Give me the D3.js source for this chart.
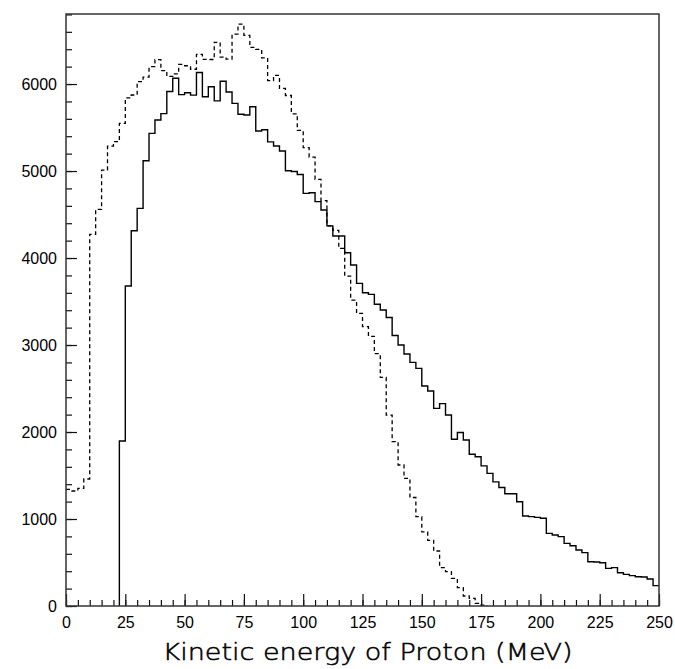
<!DOCTYPE html>
<html>
<head>
<meta charset="utf-8">
<script src="https://cdn.jsdelivr.net/npm/d3@7"></script>
<style>
  body { margin: 0; background: #fff; }
  svg { display: block; }
</style>
</head>
<body>
<div id="chart"></div>
<script>
// histogram: 100 bins of 2.5 MeV from 0 to 250
const binWidth = 2.5;
const xTicks = [0, 25, 50, 75, 100, 125, 150, 175, 200, 225, 250];
const yTicks = [0, 1000, 2000, 3000, 4000, 5000, 6000];

// solid line
const solidCounts = [
  0, 0, 0, 0, 0, 0, 0, 0, 0, 1897,
  3678, 4314, 4571, 5118, 5433, 5586, 5660, 5915, 6066, 5878,
  5900, 5872, 6132, 5854, 5968, 5806, 6032, 5908, 5778, 5652,
  5644, 5739, 5460, 5475, 5335, 5287, 5230, 5004, 4995, 4960,
  4743, 4751, 4648, 4552, 4370, 4253, 4253, 4061, 3920, 3709,
  3601, 3582, 3469, 3402, 3316, 3110, 3000, 2897, 2801, 2732,
  2529, 2471, 2272, 2326, 2195, 1916, 1994, 1908, 1745, 1716,
  1611, 1525, 1427, 1362, 1290, 1290, 1199, 1034, 1027, 1019,
  1008, 835, 816, 797, 720, 693, 644, 613, 509, 506,
  498, 433, 441, 383, 364, 349, 337, 333, 310, 234
];

// dashed line
const dashedCounts = [
  1341, 1322, 1352, 1460, 4272, 4559, 5011, 5287, 5337, 5548,
  5840, 5874, 6027, 6080, 6199, 6280, 6155, 6088, 6117, 6226,
  6210, 6170, 6341, 6284, 6282, 6479, 6310, 6286, 6573, 6688,
  6560, 6422, 6399, 6300, 6040, 6099, 5950, 5868, 5658, 5467,
  5268, 5160, 4905, 4659, 4370, 4318, 4111, 3793, 3517, 3364,
  3211, 3100, 2900, 2628, 2195, 1889, 1621, 1467, 1247, 1027,
  851, 755, 632, 441, 395, 318, 211, 115, 88, 31,
  11, 0, 0, 0, 0, 0, 0, 0, 0, 0,
  0, 0, 0, 0, 0, 0, 0, 0, 0, 0,
  0, 0, 0, 0, 0, 0, 0, 0, 0, 0
];

const width = 675, height = 669;
const margin = { top: 14, right: 16, bottom: 63, left: 66 };

const svg = d3.select("#chart")
    .append("svg")
    .attr("width", width)
    .attr("height", height);

const x = d3.scaleLinear().domain([0, 250]).range([margin.left, width - margin.right]);
const y = d3.scaleLinear().domain([0, 6805]).range([height - margin.bottom, margin.top]);

// turn bin contents into step points, trimming empty bins at both ends
function stepPoints(counts) {
    let first = counts.findIndex(v => v > 0);
    let last = counts.length - 1;
    while (last > 0 && counts[last] === 0) last--;
    const pts = [];
    if (first > 0) pts.push([first * binWidth, 0]);
    for (let i = first; i <= last; i++) pts.push([i * binWidth, counts[i]]);
    pts.push([(last + 1) * binWidth, counts[last]]);
    if (last < counts.length - 1) pts.push([(last + 1) * binWidth, 0]);
    return pts;
}

const line = d3.line()
    .x(d => x(d[0]))
    .y(d => y(d[1]))
    .curve(d3.curveStepAfter);

svg.append("path")
    .datum(stepPoints(dashedCounts))
    .attr("fill", "none")
    .attr("stroke", "#000")
    .attr("stroke-width", 1.3)
    .attr("stroke-dasharray", "4,3")
    .attr("d", line);

svg.append("path")
    .datum(stepPoints(solidCounts))
    .attr("fill", "none")
    .attr("stroke", "#000")
    .attr("stroke-width", 1.4)
    .attr("d", line);

// axes, ticks pointing inward
const font = "'Liberation Sans', Arial, sans-serif";
const bottomY = height - margin.bottom;

svg.append("g")
    .attr("transform", `translate(0,${bottomY})`)
    .call(d3.axisBottom(x).tickValues(d3.range(0, 251, 5)).tickSize(-6).tickFormat(""))
    .call(g => g.select(".domain").remove());

svg.append("g")
    .attr("transform", `translate(0,${bottomY})`)
    .call(d3.axisBottom(x).tickValues(xTicks).tickSize(-12).tickPadding(11).tickFormat(d3.format("d")))
    .call(g => g.select(".domain").remove())
    .call(g => g.selectAll("text").attr("font-family", font).attr("font-size", 16).attr("fill", "#000"));

svg.append("g")
    .attr("transform", `translate(${margin.left},0)`)
    .call(d3.axisLeft(y).tickValues(d3.range(0, 6801, 200)).tickSize(-6).tickFormat(""))
    .call(g => g.select(".domain").remove());

svg.append("g")
    .attr("transform", `translate(${margin.left},0)`)
    .call(d3.axisLeft(y).tickValues(yTicks).tickSize(-11).tickPadding(9).tickFormat(d3.format("d")))
    .call(g => g.select(".domain").remove())
    .call(g => g.selectAll("text").attr("font-family", font).attr("font-size", 16).attr("fill", "#000"));

svg.selectAll(".tick line").attr("stroke", "#111").attr("stroke-width", 1.2);

// frame
svg.append("rect")
    .attr("x", margin.left)
    .attr("y", margin.top)
    .attr("width", width - margin.right - margin.left)
    .attr("height", bottomY - margin.top)
    .attr("fill", "none")
    .attr("stroke", "#333")
    .attr("stroke-width", 1.5);

svg.append("text")
    .attr("x", (margin.left + width - margin.right) / 2 + 5)
    .attr("y", 660)
    .attr("text-anchor", "middle")
    .attr("font-family", "'DejaVu Sans', sans-serif")
    .attr("font-weight", 200)
    .attr("font-size", 23)
    .attr("fill", "#000")
    .attr("stroke", "#000")
    .attr("stroke-width", 0.5)
    .attr("textLength", 410)
    .attr("lengthAdjust", "spacingAndGlyphs")
    .text("Kinetic energy of Proton (MeV)");
</script>
</body>
</html>
